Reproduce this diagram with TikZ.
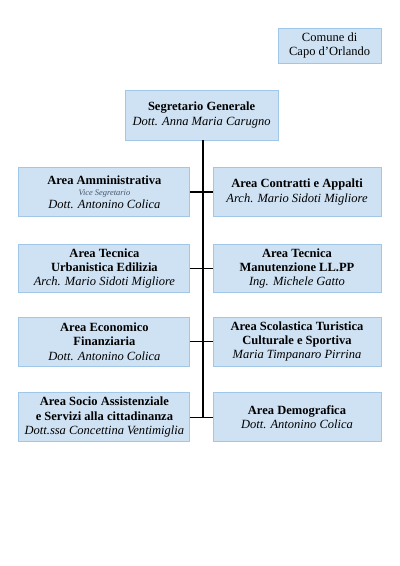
\documentclass[tikz,border=0pt]{standalone}
\usepackage{fontspec}
\setmainfont{Liberation Serif}
\usepackage{tikz}
\usetikzlibrary{positioning}

\definecolor{boxfill}{RGB}{207,226,243}
\definecolor{boxline}{RGB}{160,198,232}
\definecolor{vicegray}{RGB}{68,84,106}

\begin{document}
\begin{tikzpicture}[
    ufficio/.style={draw=boxline, fill=boxfill, line width=0.6pt, align=center,
      minimum height=1.22cm, inner sep=1pt, font=\fontsize{8.9}{10.2}\selectfont},
    sinistra/.style={ufficio, minimum width=4.275cm},
    destra/.style={ufficio, minimum width=4.2cm},
    linea/.style={line width=0.8pt}
  ]
        \useasboundingbox (0,0) rectangle (10,-14.15);
        \node (CO) [ufficio, minimum width=2.575cm, minimum height=0.875cm] at (8.24,-1.14) {Comune di\\Capo d'Orlando};
        \node (SG) [ufficio, minimum width=3.825cm, minimum height=1.25cm] at (5.04,-2.875) {\textbf{Segretario Generale}\\\textit{Dott. Anna Maria Carugno}};

        \node (AM) [sinistra] at (2.61,-4.8) {\textbf{Area Amministrativa}\\[-2pt]{\fontsize{6}{6.5}\selectfont\itshape\color{vicegray}Vice Segretario}\\[-1pt]\textit{Dott. Antonino Colica}};
        \node (CA) [destra] at (7.425,-4.8) {\textbf{Area Contratti e Appalti}\\\textit{Arch. Mario Sidoti Migliore}};
        \node (TU) [sinistra] at (2.61,-6.71) {\textbf{Area Tecnica}\\\textbf{Urbanistica Edilizia}\\\textit{Arch. Mario Sidoti Migliore}};
        \node (TM) [destra] at (7.425,-6.71) {\textbf{Area Tecnica}\\\textbf{Manutenzione LL.PP}\\\textit{Ing. Michele Gatto}};
        \node (EF) [sinistra] at (2.61,-8.54) {\textbf{Area Economico}\\\textbf{Finanziaria}\\\textit{Dott. Antonino Colica}};
        \node (ST) [destra] at (7.425,-8.54) {\textbf{Area Scolastica Turistica}\\\textbf{Culturale e Sportiva}\\\textit{Maria Timpanaro Pirrina}};
        \node (SA) [sinistra] at (2.61,-10.43) {\textbf{Area Socio Assistenziale}\\\textbf{e Servizi alla cittadinanza}\\\textit{Dott.ssa Concettina Ventimiglia}};
        \node (DE) [destra] at (7.425,-10.43) {\textbf{Area Demografica}\\\textit{Dott. Antonino Colica}};

        \coordinate (fondo) at (5.075,-10.43);
        \draw[linea] (SG.south -| fondo) -- (fondo);
        \draw[linea] (AM) -- (CA);
        \draw[linea] (TU) -- (TM);
        \draw[linea] (EF) -- (ST);
        \draw[linea] (SA) -- (DE);
    \end{tikzpicture}
\end{document}
